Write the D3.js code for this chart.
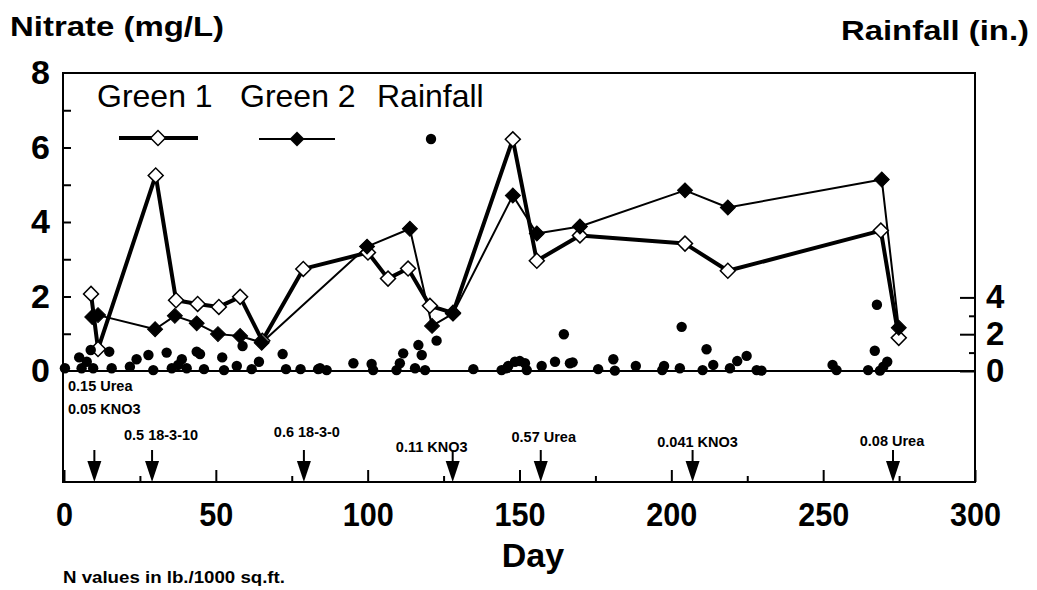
<!DOCTYPE html>
<html><head><meta charset="utf-8">
<script src="https://cdn.jsdelivr.net/npm/d3@7"></script>
<style>
body{margin:0;background:#fff}
svg{display:block}
text{font-family:"Liberation Sans",Arial,Helvetica,sans-serif;fill:#000}
</style>
</head><body>
<svg id="chart" width="1037" height="590"></svg>
<script>
// ---------------- data ----------------
const green1Days   = [8.9, 11.2, 30.2, 36.9, 44.0, 51.0, 58.0, 65.3, 78.8, 100.1, 106.7, 113.3, 120.5, 128.1, 147.8, 155.7, 169.9, 204.5, 218.6, 269.0, 274.9];
const green1Values = [2.07, 0.59, 5.25, 1.90, 1.80, 1.72, 1.99, 0.81, 2.74, 3.18, 2.48, 2.75, 1.75, 1.56, 6.22, 2.96, 3.64, 3.42, 2.69, 3.77, 0.89];

const green2Days   = [9.3, 11.2, 30.0, 36.5, 43.7, 50.7, 58.0, 65.1, 99.8, 113.9, 121.2, 128.1, 147.8, 155.7, 169.9, 204.5, 218.6, 269.3, 274.9];
const green2Values = [1.45, 1.50, 1.12, 1.48, 1.28, 0.99, 0.94, 0.76, 3.34, 3.82, 1.21, 1.54, 4.71, 3.69, 3.88, 4.85, 4.39, 5.14, 1.16];

const rainDays = [0.3, 5.0, 5.8, 7.5, 8.8, 9.6, 14.9, 15.7, 21.7, 23.9, 27.8, 29.4, 33.8, 35.5, 37.6, 38.8, 40.4, 43.7, 44.8, 46.1,
  52.1, 52.7, 56.9, 58.8, 61.8, 64.2, 72.0, 73.1, 77.9, 83.7, 84.3, 86.5, 95.3, 101.3, 101.8, 109.5, 110.6, 111.7, 115.6, 116.7,
  117.8, 118.9, 122.7, 134.8, 144.1, 145.8, 146.3, 148.5, 150.1, 151.8, 152.4, 157.3, 161.7, 164.6, 166.6, 167.5, 175.9, 180.9, 181.4, 188.3,
  197.0, 197.6, 202.8, 203.4, 210.3, 211.6, 213.8, 219.3, 221.7, 224.8, 228.1, 229.7, 253.1, 254.4, 264.8, 267.0, 267.7, 268.7, 269.8, 271.1];
const rainValues = [0.15, 0.74, 0.15, 0.50, 1.14, 0.15, 1.05, 0.15, 0.23, 0.64, 0.87, 0.05, 1.00, 0.15, 0.33, 0.64, 0.15, 1.05, 0.92, 0.10,
  0.74, 0.05, 0.27, 1.36, 0.10, 0.50, 0.92, 0.10, 0.10, 0.10, 0.15, 0.05, 0.42, 0.38, 0.05, 0.05, 0.42, 0.96, 0.15, 1.41,
  0.87, 0.05, 1.65, 0.10, 0.05, 0.15, 0.27, 0.50, 0.54, 0.42, 0.05, 0.27, 0.50, 2.00, 0.42, 0.47, 0.10, 0.64, 0.02, 0.27,
  0.05, 0.27, 0.15, 2.40, 0.05, 1.18, 0.33, 0.15, 0.54, 0.82, 0.05, 0.02, 0.33, 0.05, 0.05, 1.10, 3.60, 0.02, 0.23, 0.50];

const nitrateTickLabels = [0, 2, 4, 6, 8];
const nitrateMinorTicks = [1, 2, 3, 4, 5, 6, 7];
const rainTickLabels = [0, 2, 4];
const rainMinorTicks = [1, 3];
const dayTickLabels = [0, 50, 100, 150, 200, 250, 300];
const dayMinorTicks = [25, 75, 125, 175, 225, 275];

const fertDays   = [10, 29, 79, 128, 157, 207, 273];
const fertLabels = [["0.15 Urea", "0.05 KNO3"], ["0.5 18-3-10"], ["0.6 18-3-0"], ["0.11 KNO3"], ["0.57 Urea"], ["0.041 KNO3"], ["0.08 Urea"]];
const seriesNames = ["Green 1", "Green 2", "Rainfall"];

// ---------------- layout ----------------
const L = 63, R = 975, T = 73, B = 482;
const svg = d3.select("#chart");
const x = d3.scaleLinear().domain([0, 300]).range([64, 975]);
const y = d3.scaleLinear().domain([0, 8]).range([371, 73]);
const yr = d3.scaleLinear().domain([0, 4]).range([371, 297.4]);

// label placement for fertilizer notes (pixel offsets from arrow, baseline y)
const fertLabelLayout = [
  {anchor: "start", abs: 68, ys: [391, 414]},
  {anchor: "middle", dx: 9, ys: [440]},
  {anchor: "middle", dx: 3, ys: [437]},
  {anchor: "middle", dx: -21, ys: [452]},
  {anchor: "middle", dx: 3, ys: [442]},
  {anchor: "middle", dx: 5, ys: [447]},
  {anchor: "middle", dx: -1, ys: [446]}
];

// ---------------- frame ----------------
svg.append("rect").attr("x", L).attr("y", T).attr("width", R - L).attr("height", B - T)
  .attr("fill", "none").attr("stroke", "#000").attr("stroke-width", 2);
svg.append("line").attr("x1", L).attr("x2", R).attr("y1", y(0)).attr("y2", y(0))
  .attr("stroke", "#000").attr("stroke-width", 2);

function styleAxis(g, fs, weight, sx) {
  g.select(".domain").remove();
  g.selectAll(".tick line").attr("stroke", "#000").attr("stroke-width", 2);
  const t = g.selectAll(".tick text").attr("font-size", fs).attr("font-weight", weight).attr("fill", "#000");
  if (sx) t.attr("transform", `scale(${sx},1)`);
}

// left nitrate axis
svg.append("g").attr("transform", `translate(${L},0)`)
  .call(d3.axisLeft(y).tickValues(nitrateMinorTicks).tickSizeInner(-8).tickSizeOuter(0).tickFormat(""))
  .call(g => styleAxis(g, 0, "normal"));
svg.append("g").attr("transform", `translate(${L},0)`)
  .call(d3.axisLeft(y).tickValues(nitrateTickLabels).tickSize(0).tickPadding(13).tickFormat(d3.format("d")))
  .call(g => styleAxis(g, 34, "bold"));

// right rainfall axis
svg.append("g").attr("transform", `translate(${R},0)`)
  .call(d3.axisRight(yr).tickValues(rainMinorTicks).tickSizeInner(-6).tickSizeOuter(0).tickFormat(""))
  .call(g => styleAxis(g, 0, "normal"));
svg.append("g").attr("transform", `translate(${R},0)`)
  .call(d3.axisRight(yr).tickValues(rainTickLabels).tickSizeInner(-15).tickSizeOuter(0).tickPadding(11).tickFormat(d3.format("d")))
  .call(g => styleAxis(g, 33, "bold"));

// bottom day axis
svg.append("g").attr("transform", `translate(0,${B})`)
  .call(d3.axisBottom(x).tickValues(dayMinorTicks).tickSizeInner(-6).tickSizeOuter(0).tickFormat(""))
  .call(g => styleAxis(g, 0, "normal"));
svg.append("g").attr("transform", `translate(0,${B})`)
  .call(d3.axisBottom(x).tickValues(dayTickLabels).tickSizeInner(-12).tickSizeOuter(0).tickPadding(20).tickFormat(d3.format("d")))
  .call(g => styleAxis(g, 34, "bold", 0.9));

// ---------------- series ----------------
const g1 = green1Days.map((d, i) => [d, green1Values[i]]);
const g2 = green2Days.map((d, i) => [d, green2Values[i]]);
const line = d3.line().x(d => x(d[0])).y(d => y(d[1]));

svg.append("path").attr("d", line(g2)).attr("fill", "none").attr("stroke", "#000")
  .attr("stroke-width", 2).attr("stroke-linejoin", "round");
svg.append("path").attr("d", line(g1)).attr("fill", "none").attr("stroke", "#000")
  .attr("stroke-width", 4).attr("stroke-linejoin", "round");

const diamond = d3.symbol().type(d3.symbolSquare).size(112);

svg.append("g").selectAll("path").data(g1).join("path")
  .attr("d", diamond).attr("transform", d => `translate(${x(d[0])},${y(d[1])}) rotate(45)`)
  .attr("fill", "#fff").attr("stroke", "#000").attr("stroke-width", 1.5);
svg.append("g").selectAll("path").data(g2).join("path")
  .attr("d", diamond).attr("transform", d => `translate(${x(d[0])},${y(d[1])}) rotate(45)`)
  .attr("fill", "#000").attr("stroke", "#000").attr("stroke-width", 1);

const rain = rainDays.map((d, i) => [d, rainValues[i]]);
svg.append("g").selectAll("circle").data(rain).join("circle")
  .attr("cx", d => x(d[0])).attr("cy", d => yr(d[1])).attr("r", 5.2).attr("fill", "#000");

// ---------------- fertilizer arrows ----------------
const arrows = svg.append("g");
fertDays.forEach((d, i) => {
  const ax = x(d);
  arrows.append("line").attr("x1", ax).attr("x2", ax).attr("y1", 450).attr("y2", 464)
    .attr("stroke", "#000").attr("stroke-width", 2);
  arrows.append("path").attr("d", `M${ax - 7},461 L${ax + 7},461 L${ax},482 Z`).attr("fill", "#000");
  const lay = fertLabelLayout[i];
  fertLabels[i].forEach((t, j) => {
    arrows.append("text").attr("x", lay.abs !== undefined ? lay.abs : ax + lay.dx).attr("y", lay.ys[j])
      .attr("text-anchor", lay.anchor).attr("font-size", 14.5).attr("font-weight", "bold").text(t);
  });
});

// ---------------- legend ----------------
const leg = svg.append("g");
const legText = [97, 240, 377];
seriesNames.forEach((n, i) => {
  leg.append("text").attr("x", legText[i]).attr("y", 107).attr("font-size", 32).text(n);
});
leg.append("line").attr("x1", 119).attr("x2", 198).attr("y1", 138).attr("y2", 138).attr("stroke", "#000").attr("stroke-width", 4);
leg.append("path").attr("d", diamond).attr("transform", "translate(158,138) rotate(45)")
  .attr("fill", "#fff").attr("stroke", "#000").attr("stroke-width", 1.5);
leg.append("line").attr("x1", 259).attr("x2", 335).attr("y1", 139).attr("y2", 139).attr("stroke", "#000").attr("stroke-width", 2);
leg.append("path").attr("d", diamond).attr("transform", "translate(297,139) rotate(45)").attr("fill", "#000");
leg.append("circle").attr("cx", 431).attr("cy", 139).attr("r", 5.2).attr("fill", "#000");

// ---------------- titles ----------------
svg.append("text").attr("x", 10).attr("y", 36).attr("font-size", 28).attr("font-weight", "bold")
  .attr("textLength", 214).attr("lengthAdjust", "spacingAndGlyphs").text("Nitrate (mg/L)");
svg.append("text").attr("x", 1029).attr("y", 40).attr("text-anchor", "end").attr("font-size", 28).attr("font-weight", "bold")
  .attr("textLength", 188).attr("lengthAdjust", "spacingAndGlyphs").text("Rainfall (in.)");
svg.append("text").attr("x", 533).attr("y", 567).attr("text-anchor", "middle").attr("font-size", 34).attr("font-weight", "bold").text("Day");
svg.append("text").attr("x", 63).attr("y", 583).attr("font-size", 16).attr("font-weight", "bold")
  .attr("textLength", 222).attr("lengthAdjust", "spacingAndGlyphs").text("N values in lb./1000 sq.ft.");
</script>
</body></html>
